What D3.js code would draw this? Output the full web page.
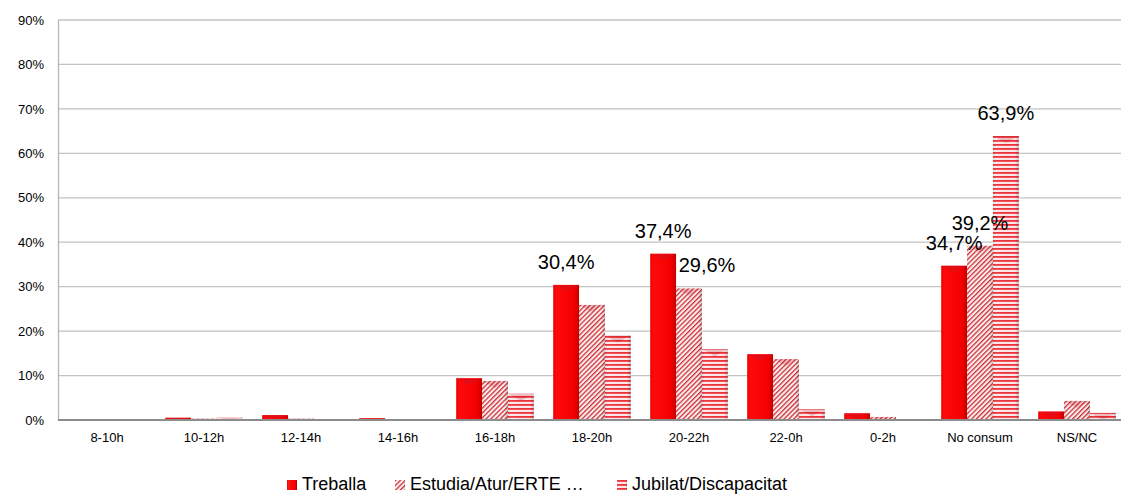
<!DOCTYPE html>
<html>
<head>
<meta charset="utf-8">
<script src="https://cdn.jsdelivr.net/npm/d3@7"></script>
<style>
  html, body { margin: 0; padding: 0; background: #fff; }
  svg { display: block; font-family: "Liberation Sans", Arial, sans-serif; }
</style>
</head>
<body>
<svg id="chart" width="1121" height="495"></svg>
<script>
const categories = ["8-10h", "10-12h", "12-14h", "14-16h", "16-18h", "18-20h", "20-22h", "22-0h", "0-2h", "No consum", "NS/NC"];
const seriesNames = ["Treballa", "Estudia/Atur/ERTE …", "Jubilat/Discapacitat"];
const treballa = [0, 0.5, 1.1, 0.4, 9.4, 30.4, 37.4, 14.8, 1.5, 34.7, 1.9];
const estudia = [0, 0.3, 0.3, 0, 8.8, 25.9, 29.6, 13.7, 0.7, 39.2, 4.3];
const jubilat = [0, 0.5, 0.1, 0, 5.9, 19.0, 15.9, 2.4, 0, 63.9, 1.6];
const yTicks = [0, 10, 20, 30, 40, 50, 60, 70, 80, 90];
const labelled = [
  { series: 0, cat: "18-20h" },
  { series: 0, cat: "20-22h" },
  { series: 1, cat: "20-22h", shift: 18 },
  { series: 0, cat: "No consum" },
  { series: 1, cat: "No consum" },
  { series: 2, cat: "No consum" }
];

const values = [treballa, estudia, jubilat];
const svg = d3.select("#chart");
const defs = svg.append("defs");

// patterns
const pd = defs.append("pattern").attr("id", "pDiag").attr("patternUnits", "userSpaceOnUse")
  .attr("width", 3.4).attr("height", 6).attr("patternTransform", "rotate(45)");
pd.append("rect").attr("width", 3.4).attr("height", 6).attr("fill", "#fdf0ee");
pd.append("rect").attr("width", 1.3).attr("height", 6).attr("fill", "#cf2c36");

const ph = defs.append("pattern").attr("id", "pHoriz").attr("patternUnits", "userSpaceOnUse")
  .attr("width", 6).attr("height", 4);
ph.append("rect").attr("width", 6).attr("height", 4).attr("fill", "#fde8e8");
ph.append("rect").attr("width", 6).attr("height", 1.8).attr("fill", "#ef3038");

const gSolid = defs.append("linearGradient").attr("id", "gSolid");
gSolid.append("stop").attr("offset", "0%").attr("stop-color", "#e60000");
gSolid.append("stop").attr("offset", "12%").attr("stop-color", "#ff0a0a");
gSolid.append("stop").attr("offset", "80%").attr("stop-color", "#f50000");
gSolid.append("stop").attr("offset", "100%").attr("stop-color", "#c40000");

const gShade = defs.append("linearGradient").attr("id", "gShade");
gShade.append("stop").attr("offset", "0%").attr("stop-color", "#000").attr("stop-opacity", 0.06);
gShade.append("stop").attr("offset", "12%").attr("stop-color", "#fff").attr("stop-opacity", 0.05);
gShade.append("stop").attr("offset", "85%").attr("stop-color", "#000").attr("stop-opacity", 0.0);
gShade.append("stop").attr("offset", "100%").attr("stop-color", "#000").attr("stop-opacity", 0.18);

const fills = ["url(#gSolid)", "url(#pDiag)", "url(#pHoriz)"];

const x = d3.scaleBand().domain(categories).range([58.5, 1125.5]).paddingInner(0.2).paddingOuter(0.1);
const xs = d3.scaleBand().domain([0, 1, 2]).range([0, x.bandwidth()]);
const y = d3.scaleLinear().domain([0, 90]).range([420, 20]);

// gridlines
svg.append("g").selectAll("line").data(yTicks.filter(t => t > 0)).join("line")
  .attr("x1", 58).attr("x2", 1121)
  .attr("y1", d => y(d)).attr("y2", d => y(d))
  .attr("stroke", "#c3c3c3").attr("stroke-width", 1.3);

// y axis
const yAxis = d3.axisLeft(y).tickValues(yTicks).tickFormat(d => d + "%").tickSize(0).tickPadding(14);
const ya = svg.append("g").attr("transform", "translate(58,0)").call(yAxis);
ya.select(".domain").attr("stroke", "#b5b5b5").attr("stroke-width", 1.3);
ya.selectAll("text").attr("font-size", 13).attr("fill", "#000").attr("font-family", "Liberation Sans, Arial, sans-serif");

// bars
const bars = [];
categories.forEach((c, i) => {
  values.forEach((arr, s) => bars.push({ c, s, v: arr[i] }));
});
const bg = svg.append("g");
const bar = bg.selectAll("g.bar").data(bars).join("g").attr("class", "bar");
bar.append("rect")
  .attr("x", d => x(d.c) + xs(d.s)).attr("width", xs.bandwidth())
  .attr("y", d => y(d.v)).attr("height", d => y(0) - y(d.v))
  .attr("fill", d => fills[d.s]);
bar.filter(d => d.s > 0).append("rect")
  .attr("x", d => x(d.c) + xs(d.s)).attr("width", xs.bandwidth())
  .attr("y", d => y(d.v)).attr("height", d => y(0) - y(d.v))
  .attr("fill", "url(#gShade)");
bar.append("polygon")
  .attr("points", d => {
    const x0 = x(d.c) + xs(d.s), w = xs.bandwidth(), t = y(d.v);
    const h = Math.min(7, y(0) - t);
    return [[x0, t], [x0 + w, t], [x0 + w / 2, t + h]].map(p => p.join(",")).join(" ");
  })
  .attr("fill", d => d.s === 0 ? "#d8101c" : "#b0101c")
  .attr("fill-opacity", d => d.s === 0 ? 0.6 : 0.2);

// baseline + x axis labels
const xAxis = d3.axisBottom(x).tickSize(0).tickPadding(13);
const xa = svg.append("g").attr("transform", "translate(0,420)").call(xAxis);
xa.select(".domain").attr("d", "M58,0H1121").attr("stroke", "#8c8c8c").attr("stroke-width", 1.8);
xa.selectAll("text").attr("font-size", 13).attr("fill", "#000").attr("font-family", "Liberation Sans, Arial, sans-serif");

// data labels
const fmt = v => d3.format(".1f")(v).replace(".", ",") + "%";
svg.append("g").selectAll("text").data(labelled).join("text")
  .attr("x", d => x(d.cat) + xs(d.series) + xs.bandwidth() / 2 + (d.shift || 0))
  .attr("y", d => y(values[d.series][categories.indexOf(d.cat)]) - 16)
  .attr("text-anchor", "middle").attr("font-size", 20).attr("fill", "#000")
  .text(d => fmt(values[d.series][categories.indexOf(d.cat)]));

// legend
const legendX = [287, 395, 617];
const lg = svg.append("g").selectAll("g").data(seriesNames).join("g")
  .attr("transform", (d, i) => `translate(${legendX[i]},480)`);
lg.append("rect").attr("width", 10).attr("height", 10).attr("fill", (d, i) => fills[i]);
lg.append("rect").attr("width", 10).attr("height", 10).attr("fill", "url(#gShade)");
lg.append("text").attr("x", 15).attr("y", 10).attr("font-size", 18).attr("fill", "#000").text(d => d);
</script>
</body>
</html>
